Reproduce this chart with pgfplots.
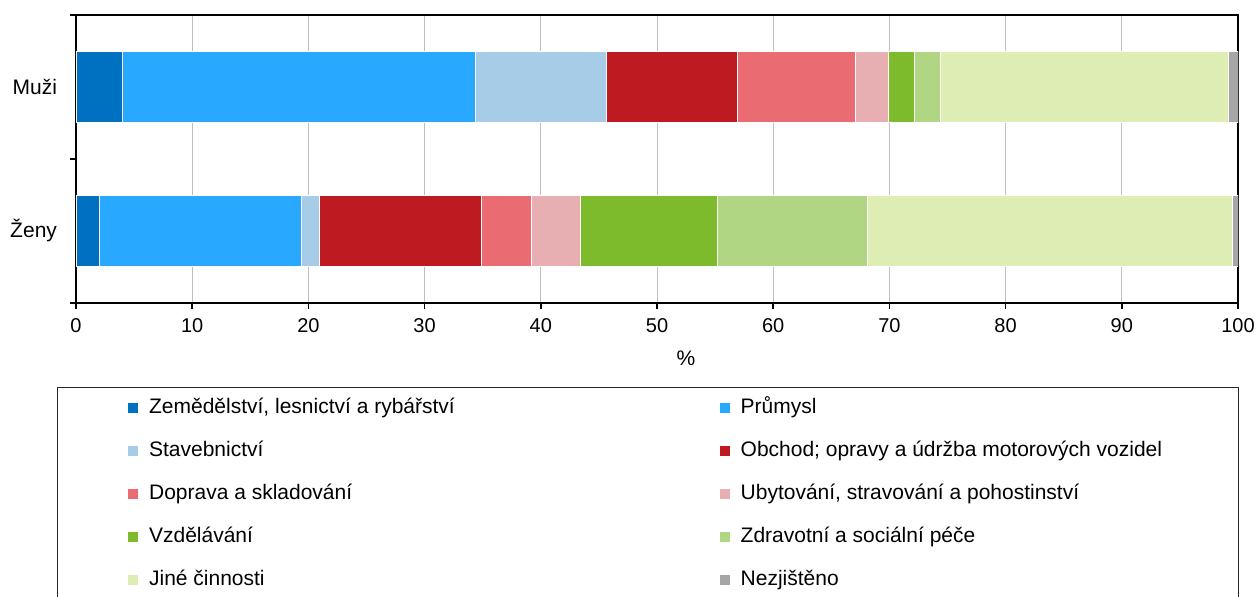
\documentclass[border=0pt]{standalone}
\usepackage{pgfplots}
\pgfplotsset{compat=1.18}
\usepackage{fontspec}
\setmainfont{Liberation Sans}
\definecolor{c1}{HTML}{0070C0}
\definecolor{c2}{HTML}{29A8FF}
\definecolor{c3}{HTML}{A6CCE8}
\definecolor{c4}{HTML}{BE1A22}
\definecolor{c5}{HTML}{EB6B73}
\definecolor{c6}{HTML}{E8AFB3}
\definecolor{c7}{HTML}{7DBB2D}
\definecolor{c8}{HTML}{B0D683}
\definecolor{c9}{HTML}{DEEDB4}
\definecolor{c10}{HTML}{A6A6A6}
\newcommand{\La}[1]{\makebox[284.75pt][l]{#1}}
\newcommand{\Lb}[1]{\makebox[214.25pt][l]{#1}}
\begin{document}
\begin{tikzpicture}[font=\fontsize{10.5pt}{12pt}\selectfont]
\begin{axis}[
  scale only axis, width=581pt, height=144pt,
  xbar stacked, bar width=35.5pt,
  xmin=0, xmax=100, ymin=-0.5, ymax=1.5,
  xtick={0,10,...,100},
  ytick={-0.5,0.5,1.5}, yticklabels={},
  extra y ticks={0,1}, extra y tick labels={Ženy,Muži},
  extra y tick style={major tick length=0pt, yticklabel style={xshift=-6pt}},
  tick pos=left, tick align=outside, major tick length=3pt,
  tick style={black, line width=0.75pt},
  axis line style={black, line width=0.75pt},
  xmajorgrids, grid style={line width=0.5pt, color=black!25},
  /pgf/number format/assume math mode=true,
  xticklabel style={yshift=-1.3pt, font=\fontsize{10pt}{12pt}\selectfont},
  xlabel={\%},
  xlabel style={xshift=14.5pt, yshift=-2pt},
  legend columns=2,
  legend cell align=left,
  legend image code/.code={\fill[#1] (0pt,-2.75pt) rectangle (5.5pt,2.75pt);},
  legend style={at={(-0.01635,-0.29167)}, anchor=north west,
    draw=black!85, line width=0.5pt,
    inner xsep=34.75pt, inner ysep=5.5pt,
    nodes={inner sep=0pt, text height=7.5pt, text depth=1.5pt},
    column sep=0pt, row sep=12.5pt,
    /tikz/every odd column/.append style={column sep=5.25pt}},
  every axis plot/.append style={draw=white, line width=0.3pt},
]
\addplot[fill=c1, draw=white] coordinates {(4.0,1) (2.0,0)};
\addlegendentry{\La{Zemědělství, lesnictví a rybářství}}
\addplot[fill=c2, draw=white] coordinates {(30.4,1) (17.4,0)};
\addlegendentry{\Lb{Průmysl}}
\addplot[fill=c3, draw=white] coordinates {(11.2,1) (1.5,0)};
\addlegendentry{\La{Stavebnictví}}
\addplot[fill=c4, draw=white] coordinates {(11.3,1) (14.0,0)};
\addlegendentry{\Lb{Obchod; opravy a údržba motorových vozidel}}
\addplot[fill=c5, draw=white] coordinates {(10.2,1) (4.3,0)};
\addlegendentry{\La{Doprava a skladování}}
\addplot[fill=c6, draw=white] coordinates {(2.8,1) (4.2,0)};
\addlegendentry{\Lb{Ubytování, stravování a pohostinství}}
\addplot[fill=c7, draw=white] coordinates {(2.2,1) (11.8,0)};
\addlegendentry{\La{Vzdělávání}}
\addplot[fill=c8, draw=white] coordinates {(2.3,1) (12.9,0)};
\addlegendentry{\Lb{Zdravotní a sociální péče}}
\addplot[fill=c9, draw=white] coordinates {(24.8,1) (31.4,0)};
\addlegendentry{\La{Jiné činnosti}}
\addplot[fill=c10, draw=white] coordinates {(0.8,1) (0.5,0)};
\addlegendentry{\Lb{Nezjištěno}}
\end{axis}
\pgfresetboundingbox
\path[use as bounding box] (-38pt,-147pt) rectangle (590.5pt,151.5pt);
\end{tikzpicture}
\end{document}
